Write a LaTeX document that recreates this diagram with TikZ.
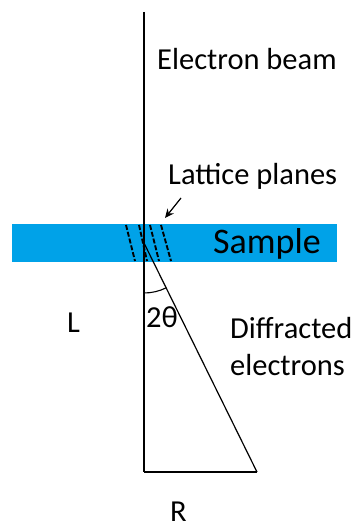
\documentclass[tikz,border=0pt]{standalone}
\usepackage{fontspec}
\setmainfont{Carlito}
\usetikzlibrary{arrows.meta}
\definecolor{samplec}{HTML}{00A2E8}
\begin{document}
\begin{tikzpicture}[x=1pt,y=-1pt,
  lbl/.style={inner sep=0pt,anchor=base west,font=\fontsize{30.5}{37}\selectfont},
  bigl/.style={inner sep=0pt,anchor=base west,font=\fontsize{36}{42}\selectfont},
  beamline/.style={line width=1.4pt,black},
  plane/.style={line width=1.9pt,dash pattern=on 5pt off 2pt},
  sampleband/.style={fill=samplec,draw=none}]
\useasboundingbox (0,0) rectangle (355,529);
\fill[white] (0,0) rectangle (355,529);
% sample
\node[sampleband,minimum width=325pt,minimum height=38pt,inner sep=0pt,anchor=north west] (sample) at (12,224) {};
\node[bigl] (sampletxt) at (213,253) {Sample};
% geometry
\coordinate (top) at (144,12);
\coordinate (origin) at (144,243);
\coordinate (corner) at (144,472);
\coordinate (farend) at (257,472);
\draw[beamline] (top) -- (corner);
\draw[beamline] (corner) -- (farend);
\draw[line width=1.2pt] (origin) -- (farend);
% lattice planes
\draw[plane] (126,225) -- (135,261);
\draw[plane] (139,225) -- (147,261);
\draw[plane] (150,225) -- (159,261);
\draw[plane] (161,225) -- (171,261);
% angle arc
\draw[line width=1.1pt] (144,293) arc[start angle=90,end angle=63.7,radius=50];
% arrow
\coordinate (arrS) at (181,198);
\coordinate (arrE) at (165,218);
\draw[line width=1.2pt,-{Stealth[length=9pt,width=8pt]}] (arrS) -- (arrE);
% labels
\node[lbl] (beam) at (157,70) {Electron beam};
\node[lbl] (lattice) at (168,185) {Lattice planes};
\node[lbl] (Ltxt) at (67,332) {L};
\node[lbl] (theta) at (146,327) {2θ};
\node[lbl] (diff) at (230,338) {Diffracted};
\node[lbl] (diff2) at (230,375) {electrons};
\node[lbl] (Rtxt) at (170,521) {R};
\end{tikzpicture}
\end{document}
